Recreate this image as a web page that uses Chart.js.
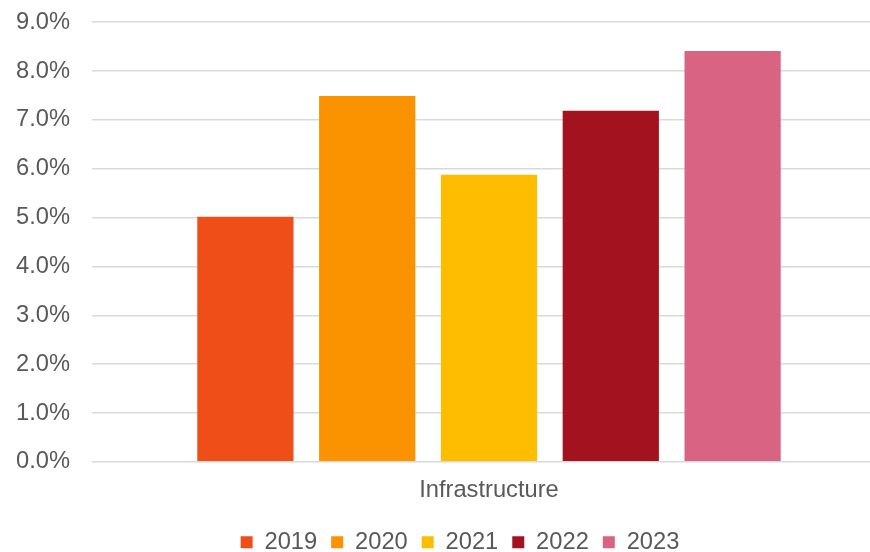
<!DOCTYPE html>
<html>
<head>
<meta charset="utf-8">
<script src="https://cdn.jsdelivr.net/npm/chart.js@4/dist/chart.umd.min.js"></script>
<style>
  html, body { margin: 0; padding: 0; background: #ffffff; overflow: hidden; width: 870px; height: 552px; position: relative; }
  /* plot area runs past the right edge, so the box is a bit larger than the page */
  #wrap { position: absolute; left: 0; top: -14px; width: 886px; height: 566px; }
</style>
</head>
<body>
<div id="wrap"><canvas id="chart"></canvas></div>
<script>
// Growth by year, one bar per year in a single category
const categories = ['Infrastructure'];
const years      = ['2019', '2020', '2021', '2022', '2023'];
const values     = [5.02, 7.49, 5.88, 7.19, 8.41];
const colors     = ['#EF4E18', '#FB9200', '#FFBD00', '#A3121F', '#D96383'];
const yTicks     = [0, 1, 2, 3, 4, 5, 6, 7, 8, 9];

const textColor = '#595959';
const gridColor = '#D9D9D9';
const font = { family: '"Liberation Sans", Arial, sans-serif', size: 23.7 };

Chart.defaults.color = textColor;

// nudge the legend a little right and down after layout
const legendShift = {
  id: 'legendShift',
  afterLayout(chart) {
    const lg = chart.legend;
    if (!lg) return;
    const dx = 20, dy = 6;
    lg.left += dx;
    lg.right += dx;
    lg.top += dy;
    lg.bottom += dy;
    if (lg.legendHitBoxes) lg.legendHitBoxes.forEach(b => { b.left += dx; b.top += dy; });
  }
};

new Chart(document.getElementById('chart'), {
  type: 'bar',
  data: {
    labels: categories,
    datasets: years.map((y, i) => ({
      label: y,
      data: [values[i]],
      backgroundColor: colors[i],
      borderWidth: 0,
      categoryPercentage: 0.767,
      barPercentage: 0.79
    }))
  },
  options: {
    responsive: true,
    maintainAspectRatio: false,
    animation: false,
    layout: { padding: { left: -6, right: 0, top: 0, bottom: -6 } },
    plugins: {
      legend: {
        position: 'bottom',
        labels: {
          boxWidth: 12,
          boxHeight: 12,
          padding: 14,
          color: textColor,
          font: font
        }
      },
      tooltip: { enabled: false }
    },
    scales: {
      x: {
        grid: { display: false },
        border: { display: false },
        ticks: { font: font, color: textColor, padding: 6 }
      },
      y: {
        min: 0,
        max: 9,
        afterBuildTicks: axis => { axis.ticks = yTicks.map(v => ({ value: v })); },
        grid: { color: gridColor, lineWidth: 1.5, drawTicks: false },
        border: { display: false },
        ticks: {
          font: font,
          color: textColor,
          padding: 22,
          callback: v => v.toFixed(1) + '%'
        }
      }
    }
  },
  plugins: [legendShift]
});
</script>
</body>
</html>
